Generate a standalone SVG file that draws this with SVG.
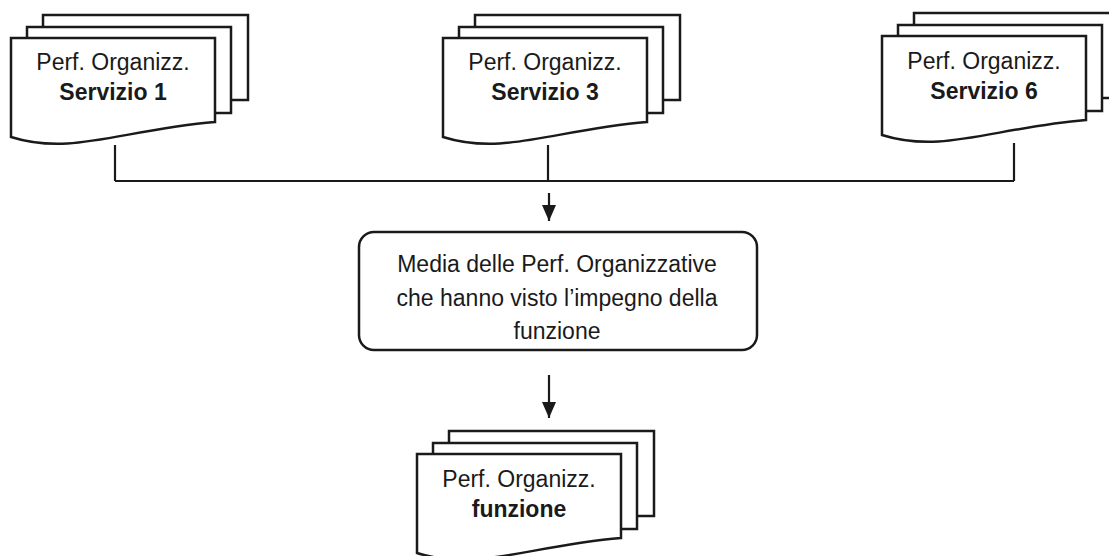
<svg xmlns="http://www.w3.org/2000/svg" width="1109" height="556" viewBox="0 0 1109 556">
<defs>
<style>
.sheet{fill:#fff;stroke:#1a1a1a;stroke-width:2.5}
.wire{fill:none;stroke:#1a1a1a;stroke-width:2.2}
.box{fill:#fff;stroke:#1a1a1a;stroke-width:2.5}
text{font-family:"Liberation Sans",Arial,sans-serif;font-size:23px;fill:#1a1a1a;text-anchor:middle}
.b{font-weight:bold}
</style>
<marker id="ah" markerUnits="userSpaceOnUse" markerWidth="16" markerHeight="14" refX="16" refY="7" orient="auto" viewBox="0 0 16 14">
<path d="M0,0 L16,7 L0,14 Z" fill="#1a1a1a"/>
</marker>
<g id="stack">
<rect class="sheet" x="32" y="-23" width="205" height="85"/>
<rect class="sheet" x="16" y="-11" width="204" height="86"/>
<path class="sheet" d="M0,0 H204 V84 C110,92 60,118 0,99 Z"/>
</g>
</defs>
<rect width="1109" height="556" fill="#fff"/>
<g id="connectors">
<path class="wire" d="M115,145 V181 M548,145 V181 M1014,143 V181 M115,181 H1014"/>
<line class="wire" x1="549" y1="193" x2="549" y2="221" marker-end="url(#ah)"/>
<line class="wire" x1="549" y1="375" x2="549" y2="418" marker-end="url(#ah)"/>
</g>
<g id="servizio1" transform="translate(11,38)">
<use href="#stack"/>
<text x="102" y="32">Perf. Organizz.</text>
<text class="b" x="102" y="62">Servizio 1</text>
</g>
<g id="servizio3" transform="translate(443,38)">
<use href="#stack"/>
<text x="102" y="32">Perf. Organizz.</text>
<text class="b" x="102" y="62">Servizio 3</text>
</g>
<g id="servizio6" transform="translate(882,36)">
<use href="#stack"/>
<text x="102" y="33">Perf. Organizz.</text>
<text class="b" x="102" y="63">Servizio 6</text>
</g>
<g id="media">
<rect class="box" x="359" y="232" width="398" height="118" rx="15" ry="15"/>
<text x="557" y="272">Media delle Perf. Organizzative</text>
<text x="557" y="306">che hanno visto l’impegno della</text>
<text x="557" y="339">funzione</text>
</g>
<g id="funzione" transform="translate(417,454)">
<use href="#stack"/>
<text x="102" y="33">Perf. Organizz.</text>
<text class="b" x="102" y="63">funzione</text>
</g>
</svg>
